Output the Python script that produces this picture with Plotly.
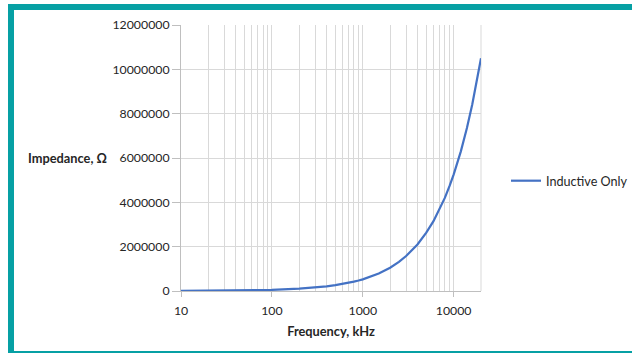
import plotly.graph_objects as go

# Frequency (kHz) and impedance (ohm)
freq_khz = [10, 20, 30, 40, 50, 60, 70, 80, 90,
            100, 200, 300, 400, 500, 600, 700, 800, 900,
            1000, 1500, 2000, 2500, 3000, 4000, 5000, 6000, 7000, 8000, 9000,
            10000, 12000, 14000, 16000, 18000, 20000]
impedance = [5300, 10500, 15800, 21000, 26300, 31500, 36800, 42000, 47300,
             52500, 105000, 158000, 210000, 263000, 315000, 368000, 420000, 473000,
             525000, 788000, 1050000, 1310000, 1580000, 2100000, 2630000, 3150000, 3680000, 4200000, 4730000,
             5250000, 6300000, 7350000, 8400000, 9450000, 10500000]
series_name = "Inductive Only"

x_major = [10, 100, 1000, 10000]
x_minor = [20, 30, 40, 50, 60, 70, 80, 90,
           200, 300, 400, 500, 600, 700, 800, 900,
           2000, 3000, 4000, 5000, 6000, 7000, 8000, 9000, 20000]
y_ticks = [0, 2000000, 4000000, 6000000, 8000000, 10000000, 12000000]

FONT = "Lato"
TXT = "#262626"
GRID = "#d9d9d9"
AXIS = "#bfbfbf"
TEAL = "#06a0a4"

fig = go.Figure()
fig.add_trace(go.Scatter(
    x=freq_khz, y=impedance, mode="lines", name=series_name,
    line=dict(color="#4472c4", width=2.2),
))

W, H = 632, 353
L, R, T, B = 181, 481, 25, 291
pw, ph = R - L, B - T

def px(x):
    return (x - L) / pw

def py(y):
    return (B - y) / ph

fig.update_layout(
    width=W, height=H,
    margin=dict(l=L, r=W - R, t=T, b=H - B, pad=0, autoexpand=False),
    paper_bgcolor="white", plot_bgcolor="white",
    font=dict(family=FONT, size=12.3, color=TXT),
    showlegend=True,
    legend=dict(x=px(506), y=py(181), xanchor="left", yanchor="middle",
                bgcolor="rgba(0,0,0,0)", font=dict(size=12.6, color=TXT),
                itemwidth=30, tracegroupgap=0),
    xaxis=dict(
        type="log", range=[1, 4.30103],
        tickvals=x_major, ticktext=[str(v) for v in x_major],
        showgrid=True, gridcolor=GRID, gridwidth=1,
        minor=dict(tickvals=x_minor, showgrid=True, gridcolor=GRID, gridwidth=1, ticks=""),
        showline=True, linecolor=AXIS, linewidth=1,
        ticks="outside", ticklen=5, tickcolor=AXIS,
        tickfont=dict(size=12.3, color=TXT), ticklabelstandoff=3,
        zeroline=False, mirror=False, automargin=False,
        title=dict(text="<b>Frequency, kHz</b>", font=dict(size=12.8, color=TXT), standoff=10),
    ),
    yaxis=dict(
        range=[0, 12000000], tickvals=y_ticks, ticktext=[str(v) for v in y_ticks],
        showgrid=True, gridcolor=GRID, gridwidth=1,
        showline=True, linecolor=AXIS, linewidth=1,
        ticks="outside", ticklen=8, tickcolor=AXIS,
        tickfont=dict(size=12.3, color=TXT),
        zeroline=False, automargin=False,
    ),
    annotations=[dict(
        text="<b>Impedance, Ω</b>", xref="paper", yref="paper",
        x=px(67), y=py(158), xanchor="center", yanchor="middle",
        showarrow=False, font=dict(size=12.8, color=TXT),
    )],
    shapes=[
        # teal frame around the picture
        dict(type="rect", xref="paper", yref="paper", layer="above",
             x0=px(11), x1=px(645), y0=py(354), y1=py(7),
             line=dict(color=TEAL, width=6), fillcolor="rgba(0,0,0,0)"),
        # right edge of the plot area
        dict(type="line", xref="paper", yref="paper", layer="below",
             x0=1, x1=1, y0=0, y1=1, line=dict(color=GRID, width=1)),
    ],
)

fig.write_html("out.html", config={"displayModeBar": False},
               post_script="document.body.style.margin='0px';")
